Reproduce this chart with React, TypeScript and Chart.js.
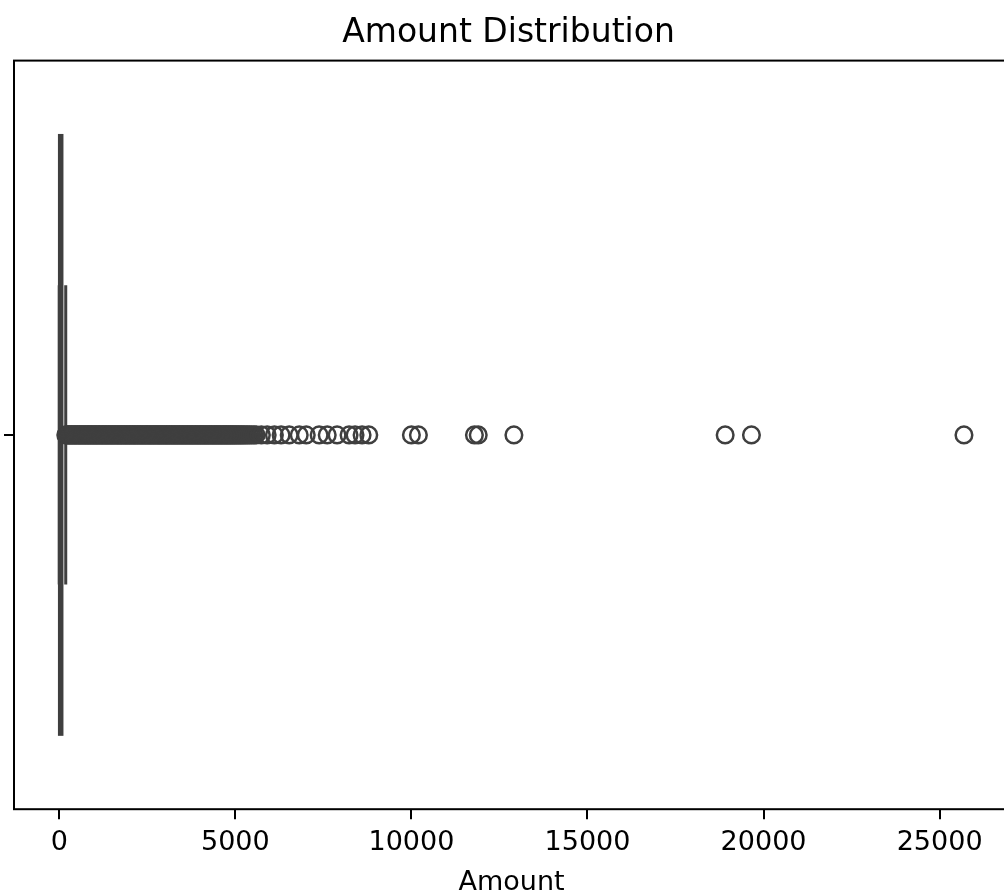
import React, { useEffect, useRef } from "react";
import { Chart, registerables } from "chart.js";

Chart.register(...registerables);

const chartTitle = "Amount Distribution";
const axisLabel = "Amount";
const amountTicks = [0, 5000, 10000, 15000, 20000, 25000];
const amountRange = [-1284.6, 26975.7];

// Five-number summary of the Amount column
const whiskerLow = 0;
const quartile1 = 5.6;
const medianAmount = 22.0;
const quartile3 = 77.17;
const whiskerHigh = 184.5;

// Outliers above the upper whisker (dense run of small amounts)
const fliersDense = [
  186, 214, 247, 281, 309, 344, 372, 405, 441, 468, 502, 537, 566, 598, 633, 661,
  695, 731, 758, 792, 826, 853, 889, 922, 950, 984, 1019, 1047, 1080, 1115, 1142,
  1178, 1210, 1239, 1274, 1306, 1336, 1370, 1403, 1433, 1468, 1500, 1531, 1565,
  1597, 1629, 1662, 1694, 1727, 1759, 1791, 1825, 1856, 1889, 1921, 1954, 1987,
  2018, 2052, 2083, 2117, 2149, 2180, 2215, 2246, 2279, 2311, 2344, 2377, 2408,
  2442, 2473, 2507, 2539, 2570, 2605, 2636, 2669, 2702, 2733, 2767, 2798, 2832,
  2864, 2896, 2929, 2961, 2994, 3026, 3058, 3092, 3123, 3156, 3189, 3221, 3254,
  3287, 3318, 3352, 3384, 3416, 3449, 3481, 3514, 3547, 3578, 3612, 3644, 3676,
  3709, 3742, 3774, 3806, 3839, 3872, 3904, 3937, 3969, 4002, 4034, 4066, 4099,
  4132, 4164, 4196, 4229, 4262, 4294, 4326, 4359, 4392, 4424, 4457, 4489, 4521,
  4554, 4587, 4620, 4652, 4684, 4718, 4750, 4783, 4816, 4850, 4882, 4917, 4951,
  4986, 5022, 5059, 5098, 5136, 5177, 5219, 5262, 5310, 5358, 5410, 5467, 5530,
  5590,
];

// Outliers in the sparse tail
const fliersSparse = [
  5740, 5905, 6110, 6300, 6530, 6815, 7015, 7380, 7610, 7890, 8230, 8400, 8600,
  8790.26, 10000, 10199.44, 11789.84, 11898.09, 12910.93, 18910, 19656.53, 25691.16,
];

const lineGray = "#3f3f3f";
const boxFill = "#1f77b4";
const FONT = "'DejaVu Sans', sans-serif";

const boxPlugin = {
  id: "amountBox",
  beforeDatasetsDraw(chart: any) {
    const { ctx } = chart;
    const xs = chart.scales.x;
    const ys = chart.scales.y;
    const yc = ys.getPixelForValue(0);
    const boxTop = ys.getPixelForValue(-0.4);
    const boxBot = ys.getPixelForValue(0.4);
    const capTop = ys.getPixelForValue(-0.2);
    const capBot = ys.getPixelForValue(0.2);
    const xLow = xs.getPixelForValue(whiskerLow);
    const xQ1 = xs.getPixelForValue(quartile1);
    const xMed = xs.getPixelForValue(medianAmount);
    const xQ3 = xs.getPixelForValue(quartile3);
    const xHigh = xs.getPixelForValue(whiskerHigh);

    ctx.save();
    ctx.strokeStyle = lineGray;
    ctx.lineWidth = 3;
    ctx.lineCap = "butt";

    // whiskers
    ctx.beginPath();
    ctx.moveTo(xLow, yc);
    ctx.lineTo(xQ1, yc);
    ctx.moveTo(xQ3, yc);
    ctx.lineTo(xHigh, yc);
    // caps
    ctx.moveTo(xLow, capTop);
    ctx.lineTo(xLow, capBot);
    ctx.moveTo(xHigh, capTop);
    ctx.lineTo(xHigh, capBot);
    ctx.stroke();

    // box
    const top = Math.min(boxTop, boxBot);
    const h = Math.abs(boxBot - boxTop);
    ctx.fillStyle = boxFill;
    ctx.fillRect(xQ1, top, xQ3 - xQ1, h);
    ctx.strokeRect(xQ1, top, xQ3 - xQ1, h);

    // median
    ctx.beginPath();
    ctx.moveTo(xMed, boxTop);
    ctx.lineTo(xMed, boxBot);
    ctx.stroke();
    ctx.restore();
  },
};

const framePlugin = {
  id: "axesFrame",
  afterDatasetsDraw(chart: any) {
    const { ctx, chartArea } = chart;
    ctx.save();
    ctx.strokeStyle = "#000";
    ctx.lineWidth = 2;
    ctx.strokeRect(
      chartArea.left,
      chartArea.top,
      chartArea.right - chartArea.left,
      chartArea.bottom - chartArea.top
    );
    ctx.restore();
  },
};

export default function App() {
  const canvasRef = useRef<HTMLCanvasElement | null>(null);

  useEffect(() => {
    if (!canvasRef.current) return;
    const points = [...fliersDense, ...fliersSparse].map((v) => ({ x: v, y: 0 }));
    const chart = new Chart(canvasRef.current, {
      type: "scatter",
      data: {
        datasets: [
          {
            label: axisLabel,
            data: points,
            pointStyle: "circle",
            pointRadius: 8.3,
            pointBorderWidth: 2.5,
            pointBorderColor: lineGray,
            pointBackgroundColor: "rgba(0,0,0,0)",
          },
        ],
      },
      options: {
        animation: false,
        responsive: false,
        devicePixelRatio: 1,
        events: [],
        layout: { padding: { left: 4, right: 7, top: 0, bottom: -5 } },
        plugins: {
          legend: { display: false },
          tooltip: { enabled: false },
          title: {
            display: true,
            text: chartTitle,
            color: "#000",
            font: { family: FONT, size: 33, weight: "normal" },
            padding: { top: 14, bottom: 7 },
          },
        },
        scales: {
          x: {
            type: "linear",
            min: amountRange[0],
            max: amountRange[1],
            afterBuildTicks: (scale: any) => {
              scale.ticks = amountTicks.map((v) => ({ value: v }));
            },
            border: { display: false },
            grid: {
              drawOnChartArea: false,
              color: "#000",
              lineWidth: 2,
              tickLength: 10,
            },
            ticks: {
              color: "#000",
              font: { family: FONT, size: 27 },
              padding: 7.5,
              maxRotation: 0,
              autoSkip: false,
              callback: (v: any) => String(v),
            },
            title: {
              display: true,
              text: axisLabel,
              color: "#000",
              font: { family: FONT, size: 27 },
              padding: { top: 0, bottom: -2 },
            },
          },
          y: {
            type: "linear",
            min: -0.5,
            max: 0.5,
            reverse: true,
            afterBuildTicks: (scale: any) => {
              scale.ticks = [{ value: 0 }];
            },
            border: { display: false },
            grid: {
              drawOnChartArea: false,
              color: "#000",
              lineWidth: 2,
              tickLength: 10,
            },
            ticks: { display: false },
          },
        },
      },
      plugins: [boxPlugin, framePlugin],
    });
    return () => chart.destroy();
  }, []);

  return (
    <div
      style={{
        position: "absolute",
        left: 0,
        top: 0,
        width: 1004,
        height: 892,
        overflow: "hidden",
        background: "#fff",
      }}
    >
      <canvas ref={canvasRef} width={1020} height={892} style={{ display: "block" }} />
    </div>
  );
}
